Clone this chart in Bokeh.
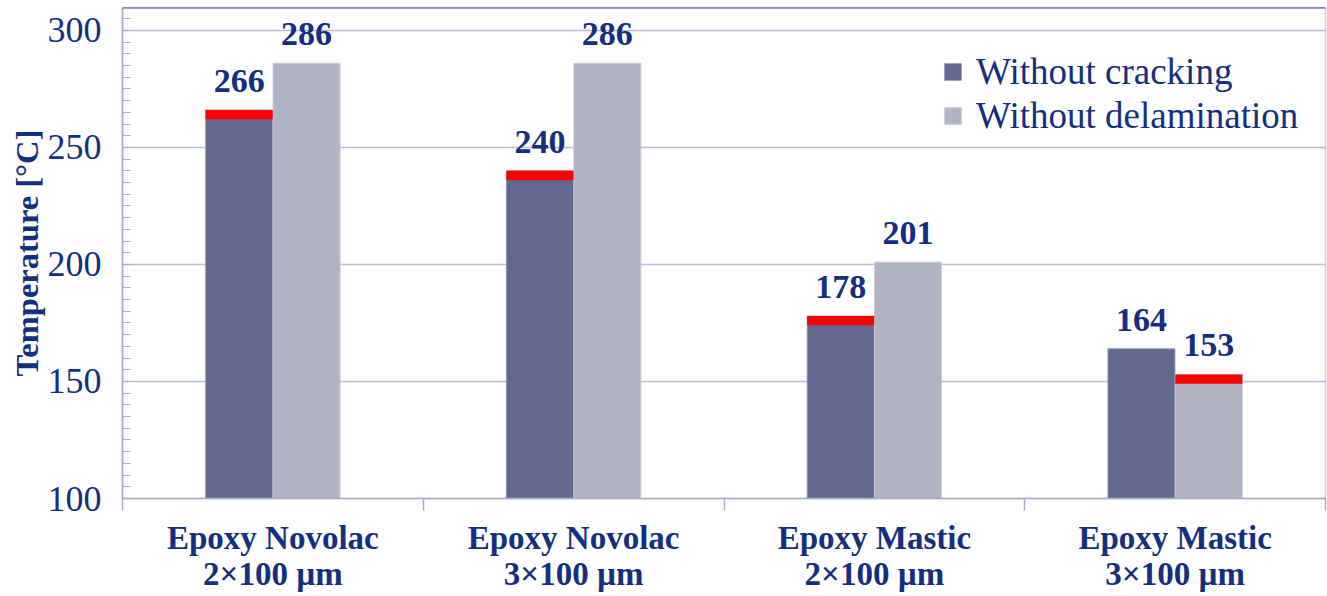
from bokeh.plotting import figure
from bokeh.models import (ColumnDataSource, FixedTicker, SingleIntervalTicker, Legend,
                          LegendItem, LabelSet, Span, Range1d)
from bokeh.transform import dodge
from bokeh.embed import file_html
from bokeh.resources import INLINE

# ---------------- data ----------------
categories = ["Epoxy Novolac\n2×100 µm", "Epoxy Novolac\n3×100 µm",
              "Epoxy Mastic\n2×100 µm", "Epoxy Mastic\n3×100 µm"]
series_names = ["Without cracking", "Without delamination"]
without_cracking = [266, 240, 178, 164]
without_delamination = [286, 286, 201, 153]
y_ticks_interval = 50

# ---------------- style ----------------
NAVY = "#12307F"
DARK = "#626890"
LIGHT = "#B2B4C6"
GRID = "#B9BCD5"
SERIF = "Liberation Serif"
Y0, Y1 = 100, 309.8
OFF = 0.112
BW = 0.223
RED_H = 4

x = [i + 0.5 for i in range(len(categories))]
src = ColumnDataSource(dict(
    x=x, crack=without_cracking, delam=without_delamination,
    crack_lbl=[str(v) for v in without_cracking],
    delam_lbl=[str(v) for v in without_delamination]))

# red marker on the limiting (lower) value of each group
crack_red = {"x": [], "top": [], "bottom": []}
delam_red = {"x": [], "top": [], "bottom": []}
for xi, c, d in zip(x, without_cracking, without_delamination):
    tgt = crack_red if c <= d else delam_red
    v = min(c, d)
    tgt["x"].append(xi); tgt["top"].append(v); tgt["bottom"].append(v - RED_H)

p = figure(width=1327, height=596, output_backend="svg", toolbar_location=None,
           x_range=Range1d(0, len(categories)), y_range=Range1d(Y0, Y1),
           min_border_left=122, min_border_right=2, min_border_top=7, min_border_bottom=98)
p.background_fill_color = "white"
p.border_fill_color = "white"
p.outline_line_color = "#C9CBDD"
p.outline_line_width = 1.5

r1 = p.vbar(x=dodge("x", -OFF), top="crack", bottom=Y0, width=BW, source=src,
            fill_color=DARK, line_color="#8F94B3", line_width=0.8)
r2 = p.vbar(x=dodge("x", OFF), top="delam", bottom=Y0, width=BW, source=src,
            fill_color=LIGHT, line_color="#C6C8D6", line_width=0.8)
p.vbar(x=dodge("x", -OFF), top="top", bottom="bottom", width=BW,
       source=ColumnDataSource(crack_red), fill_color="#FF0000", line_color=None)
p.vbar(x=dodge("x", OFF), top="top", bottom="bottom", width=BW,
       source=ColumnDataSource(delam_red), fill_color="#FF0000", line_color=None)

for col, lbl, off in (("crack", "crack_lbl", -OFF), ("delam", "delam_lbl", OFF)):
    p.add_layout(LabelSet(x=dodge("x", off), y=col, text=lbl, source=src,
                          text_align="center", text_baseline="alphabetic", y_offset=18,
                          text_font=SERIF, text_font_style="bold",
                          text_font_size="34px", text_color=NAVY))

# top border
p.add_layout(Span(location=Y1, dimension="width", line_color="#4A5391", line_width=2))

# y axis
yt = SingleIntervalTicker(interval=y_ticks_interval, num_minor_ticks=10)
p.yaxis.ticker = yt
p.ygrid.ticker = yt
p.ygrid.grid_line_color = GRID
p.ygrid.grid_line_width = 1.5
p.xgrid.grid_line_color = None
p.yaxis.axis_label = "Temperature [°C]"
p.yaxis.axis_label_text_font = SERIF
p.yaxis.axis_label_text_font_style = "bold"
p.yaxis.axis_label_text_font_size = "32.5px"
p.yaxis.axis_label_text_color = NAVY
p.yaxis.axis_label_standoff = 0
p.yaxis.major_label_text_font = SERIF
p.yaxis.major_label_text_font_size = "36px"
p.yaxis.major_label_text_color = NAVY
p.yaxis.major_label_standoff = 21
p.yaxis.axis_line_color = "#A9ACC9"
p.yaxis.axis_line_width = 1.5
p.yaxis.major_tick_in = 0
p.yaxis.major_tick_out = 0
p.yaxis.minor_tick_in = 8
p.yaxis.minor_tick_out = 0
p.yaxis.minor_tick_line_color = "#A9ACC9"
p.yaxis.minor_tick_line_width = 1.2

# x axis
p.xaxis.ticker = FixedTicker(ticks=x, minor_ticks=list(range(len(categories) + 1)))
p.xaxis.major_label_overrides = {xi: c for xi, c in zip(x, categories)}
p.xaxis.major_label_text_font = SERIF
p.xaxis.major_label_text_font_style = "bold"
p.xaxis.major_label_text_font_size = "33px"
p.xaxis.major_label_text_line_height = 1.02
p.xaxis.major_label_text_color = NAVY
p.xaxis.major_label_standoff = 9
p.xaxis.axis_label_standoff = 0
p.xaxis.axis_line_color = "#A9ACC9"
p.xaxis.axis_line_width = 1.5
p.xaxis.major_tick_in = 0
p.xaxis.major_tick_out = 0
p.xaxis.minor_tick_in = 0
p.xaxis.minor_tick_out = 12
p.xaxis.minor_tick_line_color = "#A9ACC9"
p.xaxis.minor_tick_line_width = 1.5

legend = Legend(items=[LegendItem(label=series_names[0], renderers=[r1]),
                       LegendItem(label=series_names[1], renderers=[r2])],
                location=(820, 361), orientation="vertical",
                glyph_width=21, glyph_height=21, label_standoff=13,
                label_height=38, spacing=1, padding=0, margin=0,
                label_text_font=SERIF, label_text_font_size="37px",
                label_text_color=NAVY, background_fill_alpha=0,
                border_line_color=None)
p.add_layout(legend)

open("out.html", "w").write(file_html(p, INLINE))
